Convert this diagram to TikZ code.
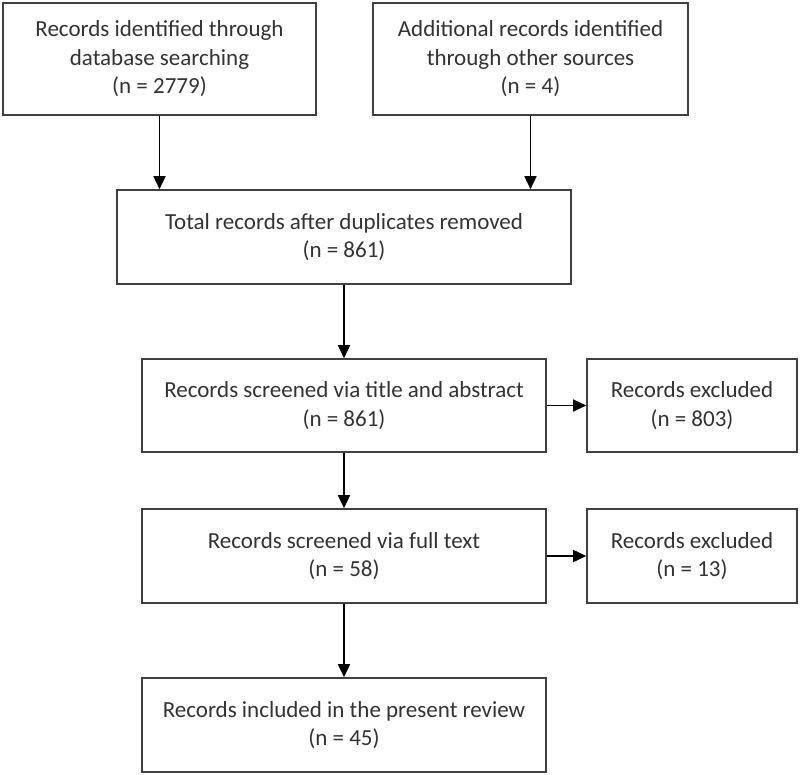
\documentclass[tikz,border=0pt]{standalone}
\usepackage{fontspec}
\setmainfont{Carlito}
\usetikzlibrary{arrows.meta}

\begin{document}
\begin{tikzpicture}[
    x=1pt, y=-1pt,
    record/.style={rectangle, draw=black!75, line width=1.6pt, fill=white, align=center, inner sep=0pt, text=black!80, font=\fontsize{23}{28.5}\selectfont},
    arrow/.style={-{Triangle[length=13pt, width=12pt]}, draw=black, line width=1.6pt}
]

\useasboundingbox (0,0) rectangle (800,775);

% Identification (haut)
\node[record, minimum width=313pt, minimum height=112pt] (db) at (159.5,59) {Records identified through\\database searching\\(n = 2779)};
\node[record, minimum width=315pt, minimum height=112pt] (other) at (530.5,59) {Additional records identified\\through other sources\\(n = 4)};

% Colonne centrale
\node[record, minimum width=454pt, minimum height=94pt] (total) at (344,237) {Total records after duplicates removed\\(n = 861)};
\node[record, minimum width=404pt, minimum height=93pt] (title) at (344,405.5) {Records screened via title and abstract\\(n = 861)};
\node[record, minimum width=404pt, minimum height=94pt] (full) at (344,556) {Records screened via full text\\(n = 58)};
\node[record, minimum width=404pt, minimum height=94pt] (incl) at (344,725) {Records included in the present review\\(n = 45)};

% Exclusions (colonne droite)
\node[record, minimum width=210pt, minimum height=93pt] (excl1) at (692,405.5) {Records excluded\\(n = 803)};
\node[record, minimum width=210pt, minimum height=94pt] (excl2) at (692,556) {Records excluded\\(n = 13)};

% Fleches
\draw[arrow] (db.south) -- (db.south |- total.north);
\draw[arrow] (other.south) -- (other.south |- total.north);
\draw[arrow] (total) -- (title);
\draw[arrow] (title) -- (full);
\draw[arrow] (full) -- (incl);
\draw[arrow] (title) -- (excl1);
\draw[arrow] (full) -- (excl2);

\end{tikzpicture}
\end{document}
